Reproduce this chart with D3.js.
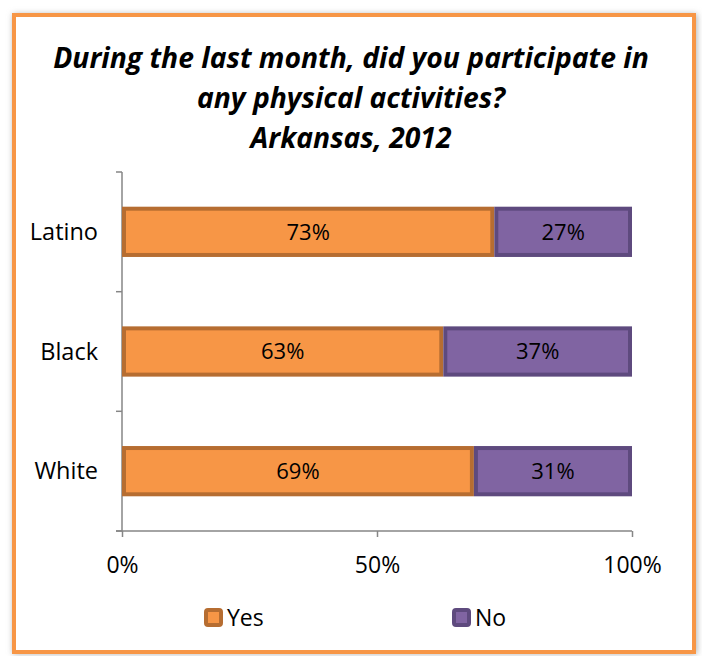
<!DOCTYPE html>
<html>
<head>
<meta charset="UTF-8">
<title>physical activities</title>
<style>
  body { margin: 0; background: #fff; }
  svg text { font-family: "Open Sans", "DejaVu Sans", sans-serif; fill: #000; }
</style>
</head>
<body>
<script src="https://cdn.jsdelivr.net/npm/d3@7/dist/d3.min.js"></script>
<script>
// categories top to bottom
const groups = ["Latino", "Black", "White"];
const yesVals = [73, 63, 69];
const noVals = [27, 37, 31];
const seriesNames = ["Yes", "No"];
const xTicks = [0, 50, 100];
const titleLines = ["During the last month, did you participate in", "any physical activities?", "Arkansas, 2012"];

const W = 702, H = 656;
const fills = ["#F79646", "#8064A2"];
const strokes = ["#B66D31", "#5E4A7E"];

const svg = d3.select("body").append("svg")
  .attr("width", W).attr("height", H);

// soft shadow + orange frame
const defs = svg.append("defs");
defs.append("filter").attr("id", "blur")
  .attr("x", "-5%").attr("y", "-5%").attr("width", "110%").attr("height", "110%")
  .append("feGaussianBlur").attr("stdDeviation", 3);
svg.append("rect")
  .attr("x", 13).attr("y", 14).attr("width", 684).attr("height", 640)
  .attr("fill", "#b0b0b0").attr("filter", "url(#blur)");
svg.append("rect")
  .attr("x", 14).attr("y", 15).attr("width", 680).attr("height", 637)
  .attr("fill", "#fff").attr("stroke", "#F79646").attr("stroke-width", 4);

// title
svg.append("g").selectAll("text")
  .data(titleLines).enter().append("text")
  .attr("x", 351)
  .attr("y", (d, i) => 68 + i * 40)
  .attr("text-anchor", "middle")
  .style("font-size", "28.3px")
  .style("font-weight", "bold")
  .style("font-style", "italic")
  .text(d => d);

const x = d3.scaleLinear().domain([0, 100]).range([122, 632]);
const y = d3.scaleBand().domain(groups).range([172, 531]).paddingInner(0.58).paddingOuter(0.29);

// y axis: line with ticks at band edges
const gy = svg.append("g").attr("transform", "translate(122,0)");
const yEdges = [172, 291.7, 411.3, 531];
gy.append("path").attr("d", "M0,172V531").attr("fill", "none");
gy.selectAll("line.edge").data(yEdges).enter().append("line")
  .attr("class", "edge").attr("x1", -6).attr("x2", 0)
  .attr("y1", d => d).attr("y2", d => d);
gy.selectAll("line, path").attr("stroke", "#868686").attr("stroke-width", 1.5);

const xAxis = d3.axisBottom(x).tickValues(xTicks).tickSize(6)
  .tickFormat(d => d + "%").tickPadding(20);
const gx = svg.append("g").attr("transform", "translate(0,531)").call(xAxis);
gx.select(".domain").attr("d", "M116,0H632");
gx.selectAll("line, path").attr("stroke", "#868686").attr("stroke-width", 1.5);
gx.selectAll("text").style("font-size", "23px").attr("fill", "#000");

// category labels
svg.append("g").selectAll("text")
  .data(groups).enter().append("text")
  .attr("x", 98)
  .attr("y", d => y(d) + y.bandwidth() / 2)
  .attr("dy", "0.35em")
  .attr("text-anchor", "end")
  .style("font-size", "23.5px")
  .text(d => d);

// stacked bars
const rows = groups.map((g, i) => ({ group: g, vals: [yesVals[i], noVals[i]] }));
const segs = [];
rows.forEach(r => {
  let acc = 0;
  r.vals.forEach((v, k) => {
    segs.push({ group: r.group, k: k, x0: acc, x1: acc + v, v: v });
    acc += v;
  });
});

const bars = svg.append("g");
bars.selectAll("rect").data(segs).enter().append("rect")
  .attr("x", d => x(d.x0) + 2)
  .attr("y", d => y(d.group) + 2)
  .attr("width", d => x(d.x1) - x(d.x0) - 4)
  .attr("height", y.bandwidth() - 4)
  .attr("fill", d => fills[d.k])
  .attr("stroke", d => strokes[d.k])
  .attr("stroke-width", 4);

bars.selectAll("text").data(segs).enter().append("text")
  .attr("x", d => (x(d.x0) + x(d.x1)) / 2)
  .attr("y", d => y(d.group) + y.bandwidth() / 2)
  .attr("dy", "0.35em")
  .attr("text-anchor", "middle")
  .style("font-size", "22px")
  .text(d => d.v + "%");

// legend
const legX = [204, 452];
const leg = svg.append("g").selectAll("g")
  .data(seriesNames).enter().append("g")
  .attr("transform", (d, i) => "translate(" + legX[i] + ",608)");
leg.append("rect")
  .attr("x", 2).attr("y", 2).attr("width", 15).attr("height", 15)
  .attr("rx", 2)
  .attr("fill", (d, i) => fills[i])
  .attr("stroke", (d, i) => strokes[i])
  .attr("stroke-width", 4);
leg.append("text")
  .attr("x", 23).attr("y", 10).attr("dy", "0.35em")
  .style("font-size", "23px")
  .text(d => d);
</script>
</body>
</html>
